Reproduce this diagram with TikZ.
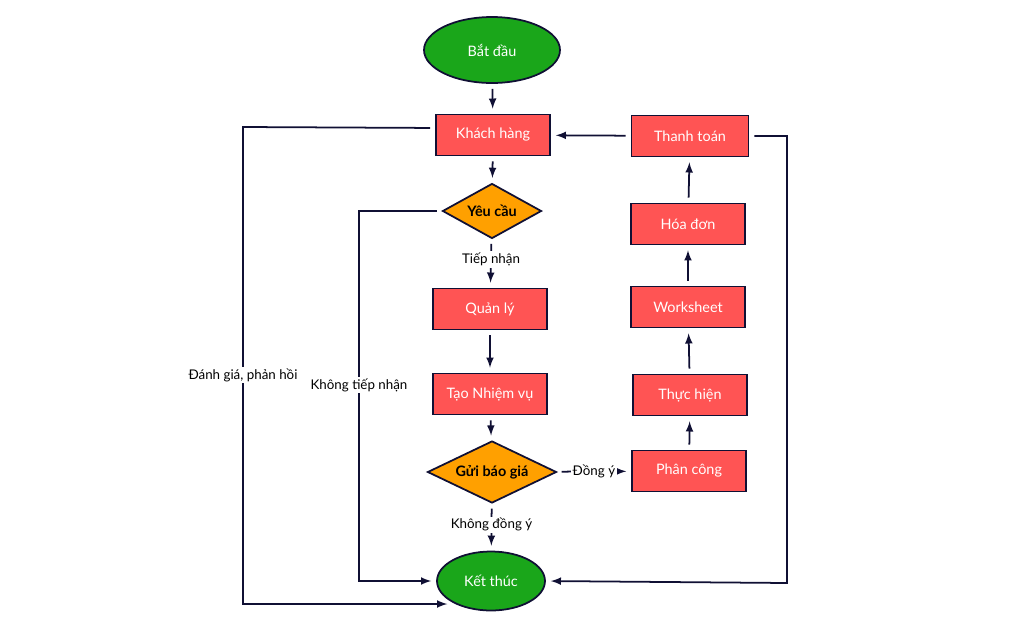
\documentclass[tikz,border=0pt]{standalone}
\usepackage{fontspec}
\setmainfont{Lato}
\usepackage{tikz}
\usetikzlibrary{shapes.geometric,arrows,calc}

\definecolor{nodegreen}{RGB}{26,166,26}
\definecolor{nodered}{RGB}{255,84,84}
\definecolor{nodeorange}{RGB}{255,160,0}
\definecolor{linenavy}{RGB}{16,16,52}

\begin{document}
\begin{tikzpicture}[x=0.02cm,y=-0.02cm,
    font=\fontsize{8.2}{9}\selectfont,
    terminal/.style={ellipse, draw=linenavy, line width=1pt, fill=nodegreen, text=white, inner sep=0pt},
    task/.style={rectangle, draw=linenavy, line width=1pt, fill=nodered, text=white, minimum width=2.28cm, minimum height=0.82cm},
    choice/.style={diamond, draw=linenavy, line width=1pt, fill=nodeorange, text=black, inner sep=0pt, aspect=2},
    arr/.style={-latex, draw=linenavy, line width=1pt, shorten >=2.8pt, shorten <=2.8pt},
    lbl/.style={fill=white, text=black, inner sep=1pt, font=\fontsize{7.6}{9}\selectfont}]
    \useasboundingbox (0,0) rectangle (1011,626);

    \node[terminal, minimum width=2.72cm, minimum height=1.32cm] at (492,50) (start) {Bắt đầu};
    \node[task] at (493,135) (kh) {Khách hàng};
    \node[choice, minimum width=1.98cm, minimum height=1.10cm] at (492,211) (yc) {\textbf{Yêu cầu}};
    \node[task] at (490,309) (ql) {Quản lý};
    \node[task] at (490,394) (nv) {Tạo Nhiệm vụ};
    \node[choice, minimum width=2.58cm, minimum height=1.24cm] at (492,472) (bg) {\textbf{Gửi báo giá}};
    \node[terminal, minimum width=2.16cm, minimum height=1.18cm] at (491,581) (end) {Kết thúc};

    \node[task] at (689,471) (pc) {Phân công};
    \node[task] at (690,395) (th) {Thực hiện};
    \node[task] at (688,307) (ws) {Worksheet};
    \node[task] at (688,224) (hd) {Hóa đơn};
    \node[task, minimum width=2.34cm] at (690,136) (tt) {Thanh toán};

    % main column
    \draw[arr] (start) -- (kh);
    \draw[arr] (kh) -- (yc);
    \draw[arr] (yc) -- node[lbl, pos=0.42] {Tiếp nhận} (ql);
    \draw[arr] (ql) -- (nv);
    \draw[arr] (nv) -- (bg);
    \draw[arr] (bg) -- node[lbl, pos=0.45] {Không đồng ý} (end);
    \draw[arr] (bg) -- node[lbl] {Đồng ý} (pc);

    % right column
    \draw[arr] (pc) -- (th);
    \draw[arr] (th) -- (ws);
    \draw[arr] (ws) -- (hd);
    \draw[arr] (hd) -- (tt);
    \draw[arr] (tt) -- (kh);

    % loops back to the end
    \draw[arr] (yc.west) -- (359,211) -- node[lbl, pos=0.47] {Không tiếp nhận} (359,581) -- (end.west);
    \draw[arr] ([yshift=4pt]kh.west) -- (243,127) -- node[lbl, pos=0.52] {Đánh giá, phản hồi} (243,604) -- (end.south west |- {(0,604)});
    \draw[arr] (tt.east) -- (787,136) -- (787,583) -- (end.east);
\end{tikzpicture}
\end{document}
